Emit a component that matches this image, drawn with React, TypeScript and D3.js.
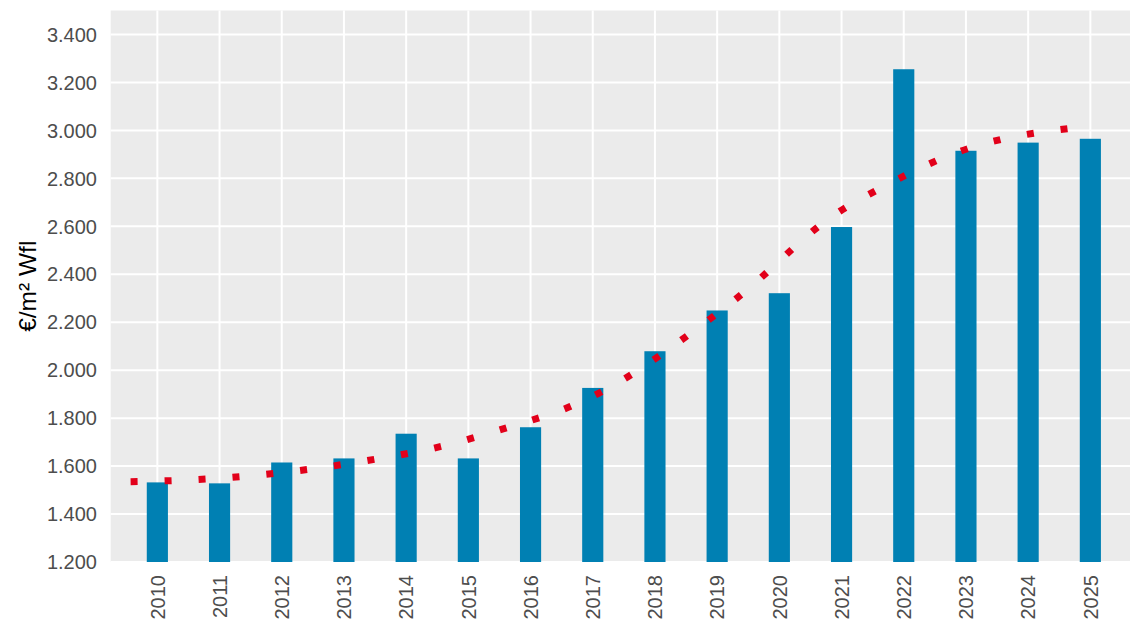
import React, { useEffect, useRef } from "react";
import * as d3 from "d3";

const years = ["2010", "2011", "2012", "2013", "2014", "2015", "2016", "2017",
  "2018", "2019", "2020", "2021", "2022", "2023", "2024", "2025"];
const prices = [1532, 1528, 1615, 1632, 1735, 1632, 1762, 1926,
  2079, 2249, 2321, 2597, 3255, 2915, 2949, 2965];
const trend = [1535, 1543, 1562, 1592, 1633, 1685, 1760, 1847,
  1984, 2167, 2373, 2605, 2764, 2890, 2969, 3009];
const yTicks = [1200, 1400, 1600, 1800, 2000, 2200, 2400, 2600, 2800, 3000, 3200, 3400];

const fmt = (v: number) => d3.format(",")(v).replace(/,/g, ".");

const App = () => {
  const svgRef = useRef<SVGSVGElement>(null);

  useEffect(() => {
    const width = 1130;
    const height = 621;
    const margin = { top: 10.5, right: -7, bottom: 59, left: 110.7 };

    const svg = d3.select(svgRef.current)
      .attr("width", width)
      .attr("height", height)
      .style("display", "block")
      .style("position", "absolute")
      .style("left", "0px")
      .style("top", "0px")
      .style("font-family", "'Liberation Sans', Arial, sans-serif");

    svg.selectAll("*").remove();

    const x = d3.scaleBand()
      .domain(years)
      .range([margin.left, width - margin.right])
      .paddingInner(0.66)
      .paddingOuter(0.58);

    // index scale on bar centres
    const xi = d3.scaleLinear()
      .domain([0, years.length - 1])
      .range([x(years[0])! + x.bandwidth() / 2, x(years[years.length - 1])! + x.bandwidth() / 2]);
    // trend line runs a bit left of the bar centres
    const tStart = -0.43;
    const tEnd = years.length - 1 - 0.31;
    const tPos = (i: number) => tStart + i * (tEnd - tStart) / (years.length - 1);

    const y = d3.scaleLinear()
      .domain([1200, 3500])
      .range([height - margin.bottom, margin.top]);

    const plotW = width - margin.right - margin.left;
    const plotH = height - margin.bottom - margin.top;

    svg.append("rect")
      .attr("x", margin.left)
      .attr("y", margin.top)
      .attr("width", plotW)
      .attr("height", plotH)
      .attr("fill", "#ebebeb");

    // grid
    svg.append("g")
      .selectAll("line")
      .data(yTicks)
      .join("line")
      .attr("x1", margin.left)
      .attr("x2", width - margin.right)
      .attr("y1", d => y(d))
      .attr("y2", d => y(d))
      .attr("stroke", "#fff")
      .attr("stroke-width", 2);

    svg.append("g")
      .selectAll("line")
      .data(years)
      .join("line")
      .attr("x1", d => x(d)! + x.bandwidth() / 2)
      .attr("x2", d => x(d)! + x.bandwidth() / 2)
      .attr("y1", margin.top)
      .attr("y2", height - margin.bottom)
      .attr("stroke", "#fff")
      .attr("stroke-width", 2);

    // bars
    svg.append("g")
      .selectAll("rect")
      .data(prices)
      .join("rect")
      .attr("x", (d, i) => x(years[i])!)
      .attr("width", x.bandwidth())
      .attr("y", d => y(d))
      .attr("height", d => y(1200) - y(d))
      .attr("fill", "#0080b3");

    // trend line
    const line = d3.line<number>()
      .x((d, i) => xi(tPos(i)))
      .y(d => y(d))
      .curve(d3.curveNatural);

    svg.append("path")
      .datum(trend)
      .attr("fill", "none")
      .attr("stroke", "#e2001a")
      .attr("stroke-width", 7)
      .attr("stroke-dasharray", "7 27")
      .attr("d", line);

    // y axis labels
    svg.append("g")
      .selectAll("text")
      .data(yTicks)
      .join("text")
      .attr("x", 97)
      .attr("y", d => y(d))
      .attr("dy", "0.36em")
      .attr("text-anchor", "end")
      .attr("fill", "#4d4d4d")
      .attr("font-size", 20)
      .text(d => fmt(d));

    // x axis labels
    svg.append("g")
      .selectAll("text")
      .data(years)
      .join("text")
      .attr("transform", d => `translate(${x(d)! + x.bandwidth() / 2},${height - margin.bottom + 13}) rotate(-90)`)
      .attr("dy", "0.36em")
      .attr("text-anchor", "end")
      .attr("fill", "#4d4d4d")
      .attr("font-size", 20)
      .text(d => d);

    svg.append("text")
      .attr("transform", `translate(27,${margin.top + plotH / 2}) rotate(-90)`)
      .attr("dy", "0.36em")
      .attr("text-anchor", "middle")
      .attr("fill", "#000")
      .attr("font-size", 24.5)
      .text("€/m² Wfl");
  }, []);

  return <svg ref={svgRef}></svg>;
};

export default App;
